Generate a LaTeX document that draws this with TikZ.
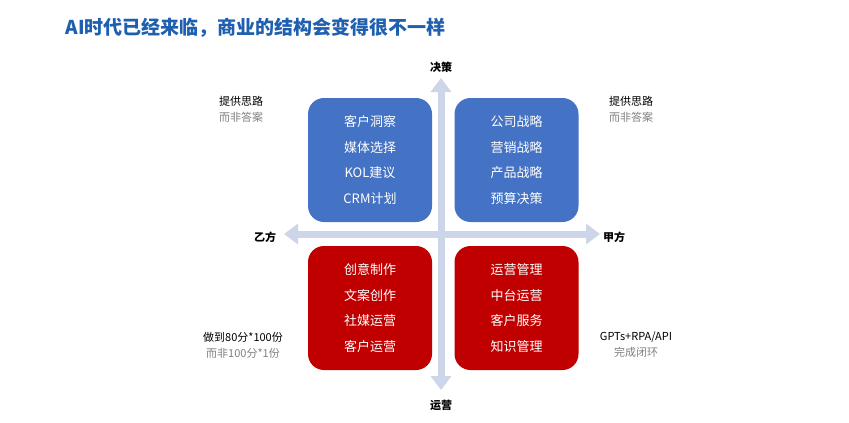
\documentclass[tikz,border=0pt]{standalone}
\usepackage{fontspec}
\setmainfont{Noto Sans CJK SC}
\usetikzlibrary{arrows.meta}
\definecolor{tblue}{HTML}{1F5FAF}
\definecolor{bblue}{HTML}{4472C4}
\definecolor{bred}{HTML}{C00000}
\definecolor{axisc}{HTML}{CDD5E8}
\tikzset{
  quad/.style={rounded corners=16pt,minimum width=124pt,minimum height=124pt,inner sep=0pt,text=white,font=\fontsize{13}{25.5}\selectfont,align=center},
  axis/.style={draw=axisc,line width=7pt,-{Triangle[width=20pt,length=14pt]}},
  lab/.style={font=\fontsize{11}{13}\selectfont\bfseries},
  side/.style={font=\fontsize{11}{16}\selectfont,align=center}
}
\begin{document}
\begin{tikzpicture}[x=1pt,y=-1pt]
\useasboundingbox[fill=white] (0,0) rectangle (849,423);
\node[anchor=west,text=tblue,font=\fontsize{19}{22}\selectfont\bfseries] (title) at (62,28) {AI时代已经来临，商业的结构会变得很不一样};
\coordinate (c) at (441,234);
\coordinate (up) at (441,78);
\coordinate (down) at (441,390);
\coordinate (left) at (284,234);
\coordinate (right) at (600,234);
\draw[axis] (c) -- (up);
\draw[axis] (c) -- (down);
\draw[axis] (c) -- (left);
\draw[axis] (c) -- (right);
\node[quad,fill=bblue] (tl) at (370,160) {客户洞察\\媒体选择\\KOL建议\\CRM计划};
\node[quad,fill=bblue] (tr) at (516.5,160) {公司战略\\营销战略\\产品战略\\预算决策};
\node[quad,fill=bred] (bl) at (370,308) {创意制作\\文案创作\\社媒运营\\客户运营};
\node[quad,fill=bred] (br) at (516.5,308) {运营管理\\中台运营\\客户服务\\知识管理};
\node[lab] (jc) at (441,67) {决策};
\node[lab] (yy) at (441,405) {运营};
\node[lab] (yf) at (265,237) {乙方};
\node[lab] (jf) at (614,237) {甲方};
\node[side] (s1) at (241,109) {提供思路\\\textcolor{gray}{而非答案}};
\node[side] (s2) at (631,109) {提供思路\\\textcolor{gray}{而非答案}};
\node[side] (s3) at (243,345) {做到80分*100份\\\textcolor{gray}{而非100分*1份}};
\node[side] (s4) at (636,345) {GPTs+RPA/API\\\textcolor{gray}{完成闭环}};
\end{tikzpicture}
\end{document}
